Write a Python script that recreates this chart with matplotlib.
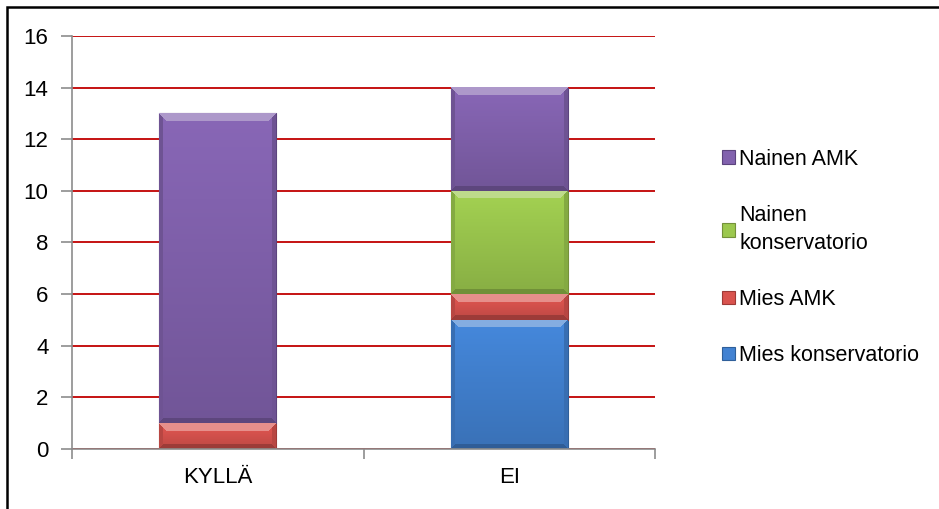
import numpy as np
import matplotlib
matplotlib.use("Agg")
import matplotlib.pyplot as plt
from matplotlib.patches import Rectangle, Patch
from matplotlib.colors import to_rgb

plt.rcParams['font.family'] = ['Liberation Sans', 'DejaVu Sans']

categories = ["KYLLÄ", "EI"]
series_names = ["Mies konservatorio", "Mies AMK", "Nainen\nkonservatorio", "Nainen AMK"]
mies_konservatorio = [0, 5]
mies_amk = [1, 1]
nainen_konservatorio = [0, 4]
nainen_amk = [12, 4]
y_ticks = [0, 2, 4, 6, 8, 10, 12, 14, 16]

colors = ["#4282D2", "#D9534E", "#9CC84E", "#8262AE"]
edges = ["#2F5F9A", "#9E3A37", "#74913A", "#5C447E"]


def bevel_image(h, w, base, bw=8):
    # simple bevel: light top, darker sides/bottom, slight vertical fade
    base = np.array(to_rgb(base))
    rows = np.arange(h)[:, None] * np.ones((1, w))
    cols = np.ones((h, 1)) * np.arange(w)[None, :]
    d_top, d_bot = rows, h - 1 - rows
    d_left, d_right = cols, w - 1 - cols
    img = np.empty((h, w, 3))
    fade = 1.05 - 0.18 * (rows / max(h - 1, 1))
    img[:] = base * fade[..., None]
    dmin = np.minimum(np.minimum(d_top, d_bot), np.minimum(d_left, d_right))
    top = (d_top == dmin) & (d_top < bw)
    bot = (d_bot == dmin) & (d_bot < bw * 0.6) & ~top
    side = ((d_left == dmin) | (d_right == dmin)) & (dmin < 4) & ~top & ~bot
    light = base + (1 - base) * 0.35
    img[top] = light
    img[bot] = base * 0.72
    img[side] = base * 0.85
    return np.clip(img, 0, 1)


fig = plt.figure(figsize=(9.39, 5.09), dpi=100)
ax = fig.add_axes([0.0767, 0.1179, 0.6209, 0.8114])
ax.set_xlim(-0.5, 1.5)
ax.set_ylim(0, 16)

x = np.arange(len(categories))
bottom = np.zeros(len(categories))
handles = []
all_bars = []
for vals, name, c, ec in zip([mies_konservatorio, mies_amk, nainen_konservatorio, nainen_amk],
                             series_names, colors, edges):
    vals = np.array(vals, dtype=float)
    bars = ax.bar(x, vals, width=0.4, bottom=bottom, color=c, edgecolor=ec,
                  linewidth=0.8, zorder=3)
    all_bars.append((bars, c))
    bottom += vals
    handles.append(Patch(facecolor=c, edgecolor=ec, linewidth=0.8, label=name))

# paint bevel on top of each bar using its own geometry
fig.canvas.draw()
for bars, c in all_bars:
    for rect in bars:
        if rect.get_height() <= 0:
            continue
        x0, y0 = rect.get_x(), rect.get_y()
        x1, y1 = x0 + rect.get_width(), y0 + rect.get_height()
        (px0, py0), (px1, py1) = ax.transData.transform([(x0, y0), (x1, y1)])
        h = max(int(round(py1 - py0)), 2)
        w = max(int(round(px1 - px0)), 2)
        ax.imshow(bevel_image(h, w, c), extent=(x0, x1, y0, y1), aspect='auto',
                  interpolation='nearest', zorder=4)
ax.set_xlim(-0.5, 1.5)
ax.set_ylim(0, 16)

ax.set_yticks(y_ticks)
ax.set_xticks(x)
ax.set_xticklabels(categories)
ax.set_xticks([-0.5, 0.5, 1.5], minor=True)
ax.tick_params(axis='x', which='major', length=0, pad=13, labelsize=16)
ax.tick_params(axis='x', which='minor', length=7, color='#8C8C8C', width=1.2)
ax.tick_params(axis='y', length=8, color='#8C8C8C', width=1.2, labelsize=16, pad=9)
ax.yaxis.grid(True, color='#C00000', linewidth=1.3, zorder=1)
ax.set_axisbelow(True)
for s in ['top', 'right']:
    ax.spines[s].set_visible(False)
for s in ['left', 'bottom']:
    ax.spines[s].set_color('#8C8C8C')
    ax.spines[s].set_linewidth(1.2)
    ax.spines[s].set_zorder(5)

leg = fig.legend(handles=handles[::-1], loc='upper left',
                 bbox_to_anchor=(0.760, 0.725), frameon=False, fontsize=15.5,
                 handlelength=0.6, handleheight=0.6, handletextpad=0.2,
                 labelspacing=1.63, borderaxespad=0)
for t in leg.get_texts():
    t.set_linespacing(1.45)

fig.patches.append(Rectangle((7 / 939, -0.05), 1.1, 1 - 7 / 509 + 0.05,
                             transform=fig.transFigure, fill=False,
                             edgecolor='black', linewidth=1.8))

fig.savefig("out.png", dpi=100)
